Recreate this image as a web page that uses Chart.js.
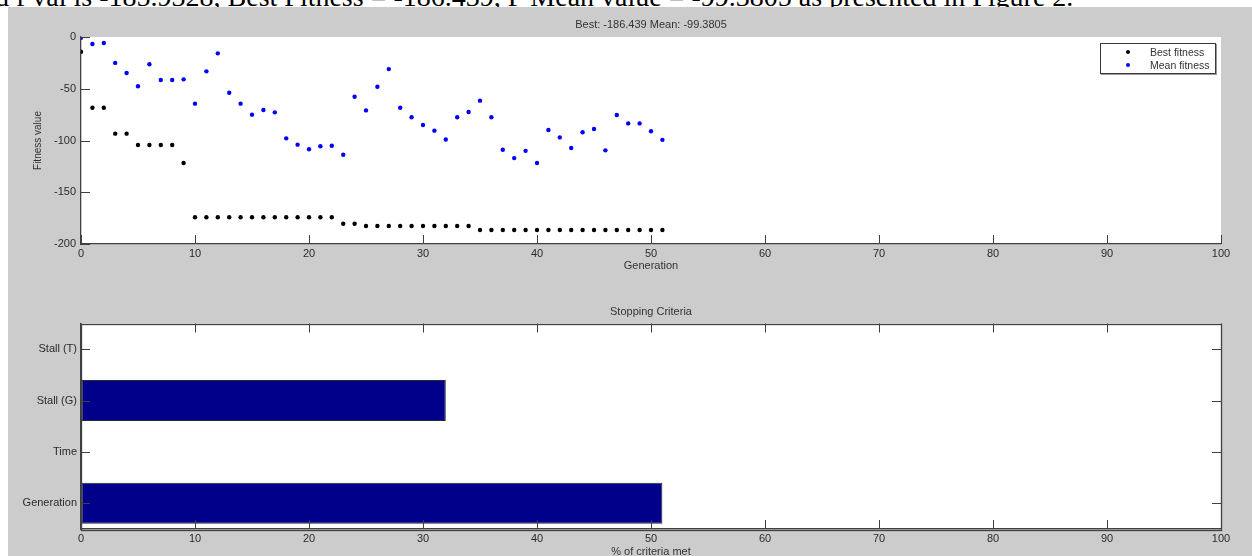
<!DOCTYPE html>
<html>
<head>
<meta charset="utf-8">
<script src="https://cdn.jsdelivr.net/npm/chart.js@4.4.1/dist/chart.umd.min.js"></script>
<style>
  html,body{margin:0;padding:0;background:#fff;width:1252px;height:556px;overflow:hidden;}
  .paper{position:absolute;left:-5px;top:-16.6px;font-family:"Liberation Serif","Times New Roman",serif;font-size:28px;line-height:28px;white-space:nowrap;color:#000;}
  .fig{position:absolute;left:8px;top:7px;width:1244px;height:549px;background:#cccccc;overflow:hidden;}
  .wrap{position:absolute;left:0;width:1244px;}
  #w1{top:0;height:283px;}
  #w2{top:283px;height:276px;}
  .legend{position:absolute;left:1092px;top:36px;width:114px;height:27px;background:#fff;border:1px solid #3a3a3a;box-shadow:1px 1px 0 #9a9a9a;padding-top:2px;font-family:"Liberation Sans",Arial,sans-serif;font-size:10.5px;color:#333;}
  .lg-row{position:relative;height:12.6px;line-height:12.6px;}
  .lg-dot{position:absolute;left:25px;top:4.3px;width:4px;height:4px;border-radius:50%;}
  .lg-txt{position:absolute;left:49px;top:0;}
</style>
</head>
<body>
<div class="paper">d f val is -185.9328, Best Fitness = -186.439, F Mean value = -99.3805 as presented in Figure 2.</div>
<div class="fig">
  <div class="wrap" id="w1"><canvas id="fit_chart"></canvas></div>
  <div class="wrap" id="w2"><canvas id="stop_chart"></canvas></div>
  <div class="legend" id="fit_legend"></div>
</div>
<script>
/* ---- data ---- */
const generations = [0,1,2,3,4,5,6,7,8,9,10,11,12,13,14,15,16,17,18,19,20,21,22,23,24,25,
  26,27,28,29,30,31,32,33,34,35,36,37,38,39,40,41,42,43,44,45,46,47,48,49,50,51];
const bestFitness = [-14.2,-68.3,-68.3,-93.4,-93.4,-104.3,-104.3,-104.3,-104.3,-121.7,
  -174.2,-174.2,-174.2,-174.2,-174.2,-174.2,-174.2,-174.2,-174.2,-174.2,-174.2,-174.2,-174.2,
  -180.4,-180.4,
  -182.6,-182.6,-182.6,-182.6,-182.6,-182.6,-182.6,-182.6,-182.6,-182.6,
  -186.439,-186.439,-186.439,-186.439,-186.439,-186.439,-186.439,-186.439,-186.439,
  -186.439,-186.439,-186.439,-186.439,-186.439,-186.439,-186.439,-186.439];
const meanFitness = [-0.8,-6.8,-5.8,-25,-34.8,-47.6,-26.4,-41.5,-41.5,-40.9,
  -64.4,-33.2,-15.8,-53.8,-64.4,-75,-70.5,-72.8,-97.9,-104,
  -108.5,-105.6,-105,-113.8,-57.7,-70.9,-48,-31,-68.3,-77.6,
  -85,-90.5,-99,-77.6,-72.5,-61.5,-77.6,-108.9,-117,-110,
  -121.7,-89.9,-97,-107.2,-92,-88.9,-109.5,-75.4,-83.5,-83.5,
  -91,-99.3805];
const seriesNames = ['Best fitness','Mean fitness'];
const seriesColors = ['#000000','#0000ff'];
const genTicks = [0,10,20,30,40,50,60,70,80,90,100];
const fitTicks = [-200,-150,-100,-50,0];

const criteria = ['Stall (T)','Stall (G)','Time','Generation'];
const criteriaMet = [0,32,0,51];
const pctTicks = [0,10,20,30,40,50,60,70,80,90,100];

/* ---- shared look ---- */
Chart.defaults.font.family = '"Liberation Sans", Arial, sans-serif';
Chart.defaults.font.size = 11;
Chart.defaults.color = '#2b2b2b';
const AXIS = '#404040';

// white axes background on the grey figure
const plotBg = {
  id:'plotBg',
  beforeDraw(chart){
    const {ctx, chartArea:a} = chart;
    ctx.save(); ctx.fillStyle = '#fff';
    ctx.fillRect(a.left, a.top, a.right-a.left, a.bottom-a.top);
    ctx.restore();
  }
};

// MATLAB style ticks that point into the axes (and the closed box for the lower plot)
const inTicks = {
  id:'inTicks',
  afterDatasetsDraw(chart, args, opts){
    const {ctx, chartArea:a, scales:{x, y}} = chart;
    const len = 9;
    ctx.save();
    ctx.strokeStyle = AXIS; ctx.lineWidth = 1;
    ctx.beginPath();
    x.ticks.forEach((t,i)=>{
      const px = Math.round(x.getPixelForTick(i)) + 0.5;
      ctx.moveTo(px, a.bottom); ctx.lineTo(px, a.bottom - len);
      if(opts.box){ ctx.moveTo(px, a.top); ctx.lineTo(px, a.top + len); }
    });
    y.ticks.forEach((t,i)=>{
      const py = Math.round(y.getPixelForTick(i)) + 0.5;
      ctx.moveTo(a.left, py); ctx.lineTo(a.left + len, py);
      if(opts.box){ ctx.moveTo(a.right, py); ctx.lineTo(a.right - len, py); }
    });
    ctx.stroke();
    if(opts.box){
      ctx.lineWidth = 1.3;
      ctx.strokeRect(Math.round(a.left)+0.5, Math.round(a.top)+0.5, Math.round(a.right-a.left), Math.round(a.bottom-a.top));
    }
    ctx.restore();
  }
};

const fixTicks = list => scale => { scale.ticks = list.map(v=>({value:v})); };
const axisBase = {
  grid:{drawOnChartArea:false, drawTicks:false},
  border:{display:true, color:AXIS, width:1.3}
};

/* ---- top: fitness per generation ---- */
new Chart(document.getElementById('fit_chart'), {
  type:'scatter',
  data:{ datasets:[bestFitness, meanFitness].map((vals,k)=>({
    label:seriesNames[k],
    data:generations.map((g,i)=>({x:g, y:vals[i]})),
    backgroundColor:seriesColors[k], borderColor:seriesColors[k],
    pointRadius:2.2, pointBorderWidth:0, pointHoverRadius:2.2
  })) },
  options:{
    responsive:true, maintainAspectRatio:false, animation:false,
    layout:{padding:{left:0, right:31, top:0, bottom:0}},
    plugins:{
      legend:{display:false}, tooltip:{enabled:false},
      title:{display:true, fullSize:false,
        text:`Best: ${bestFitness[bestFitness.length-1]} Mean: ${meanFitness[meanFitness.length-1]}`,
        font:{size:11, weight:'normal'}, color:'#333', padding:{top:11, bottom:5.8}},
      inTicks:{box:false}
    },
    scales:{
      x:{...axisBase, type:'linear', min:0, max:100,
        afterBuildTicks:fixTicks(genTicks), afterFit:s=>{ s.height = 46; },
        ticks:{padding:3},
        title:{display:true, text:'Generation', font:{size:11}, color:'#333', padding:{top:0, bottom:17.4}}},
      y:{...axisBase, type:'linear', min:-200, max:0,
        afterBuildTicks:fixTicks(fitTicks), afterFit:s=>{ s.width = 73; },
        ticks:{padding:5},
        title:{display:true, text:'Fitness value', font:{size:10}, color:'#333', padding:{top:24, bottom:0}}}
    }
  },
  plugins:[plotBg, inTicks]
});

document.getElementById('fit_legend').innerHTML = seriesNames.map((n,k)=>
  `<div class="lg-row"><span class="lg-dot" style="background:${seriesColors[k]}"></span><span class="lg-txt">${n}</span></div>`).join('');

/* ---- bottom: stopping criteria ---- */
new Chart(document.getElementById('stop_chart'), {
  type:'bar',
  data:{ labels:criteria, datasets:[{
    data:criteriaMet, backgroundColor:'#00008b', borderColor:'#2a2a2a',
    borderWidth:c=>c.raw ? 1 : 0, borderSkipped:false,
    barPercentage:0.8, categoryPercentage:1.0
  }] },
  options:{
    indexAxis:'y', responsive:true, maintainAspectRatio:false, animation:false,
    layout:{padding:{left:0, right:31, top:0, bottom:0}},
    plugins:{
      legend:{display:false}, tooltip:{enabled:false},
      title:{display:true, fullSize:false, text:'Stopping Criteria',
        font:{size:11, weight:'normal'}, color:'#333', padding:{top:15.5, bottom:4.8}},
      inTicks:{box:true}
    },
    scales:{
      x:{...axisBase, type:'linear', min:0, max:100,
        afterBuildTicks:fixTicks(pctTicks), afterFit:s=>{ s.height = 37; },
        ticks:{padding:3},
        title:{display:true, text:'% of criteria met', font:{size:11}, color:'#333', padding:{top:0, bottom:7.7}}},
      y:{...axisBase, type:'category',
        afterFit:s=>{ s.width = 73; },
        ticks:{padding:4}}
    }
  },
  plugins:[plotBg, inTicks]
});
</script>
</body>
</html>
